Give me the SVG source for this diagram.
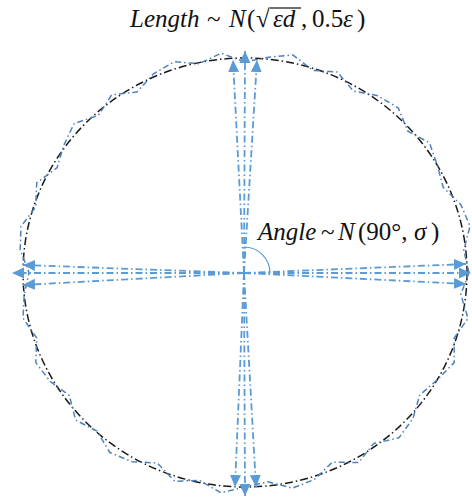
<svg xmlns="http://www.w3.org/2000/svg" width="472" height="502" viewBox="0 0 472 502">
<defs>
<style>
.circ{fill:none;stroke:#1a1a1a;stroke-width:1.5;stroke-dasharray:8 3 1.5 3}
.wob{fill:none;stroke:#4f81bd;stroke-width:1.5;stroke-dasharray:6 3 1.5 3;stroke-linejoin:round}
.arr{fill:none;stroke:#5b9bd5;stroke-width:1.8;stroke-dasharray:7 3 1.5 3;marker-end:url(#ah)}
.arc{fill:none;stroke:#5b9bd5;stroke-width:1.2}
.t{font-family:"Liberation Serif","Times New Roman",serif;font-size:25px;fill:#111}
.i{font-style:italic}
</style>
<marker id="ah" markerUnits="userSpaceOnUse" markerWidth="14" markerHeight="12" refX="12" refY="5.5" orient="auto">
<path d="M0,0 L12,5.5 L0,11 Z" fill="#5b9bd5"/>
</marker>
</defs>
<g id="circle">
<ellipse class="circ" cx="245" cy="272.5" rx="222" ry="214.5"/>
</g>
<g id="random-walk">
<polygon class="wob" points="469,272.5 460.8,294.4 468,318.3 454.2,338.2 454.2,362.6 437.3,379.8 419.7,395.1 412.9,418.7 398.9,437.8 373.7,443.6 358.5,462.6 332.4,462.1 314.5,479.4 292.4,488.2 267.8,481.8 245,487 221.1,492.8 199.3,480.3 174.9,481.3 157.2,463 132,461.7 109.8,452.5 97.1,431.2 75.6,420 69.4,395.6 50.1,381.3 35.8,362.6 36.7,337.9 23,318.1 24.2,294.9 29,272.5 20.2,249.7 21,226.5 35.8,206.8 36.7,182.8 57.1,167.7 63.8,145.2 74.1,123.6 98.5,115.3 111.6,94.9 137,91.9 153.5,73.8 174.2,61.8 199.1,63.7 221.2,53.2 245,62 268.4,57.2 292.8,54.9 313,70.4 337.3,72 353.5,91.1 377.8,95.7 398.2,107.9 407.7,131 429.5,142.9 437.3,165.3 443.2,187.3 460.9,204.7 470,226.2 463.8,250.3"/>
</g>
<g id="connectors">
<line class="arr" x1="244" y1="273" x2="233" y2="60"/>
<line class="arr" x1="244" y1="273" x2="245" y2="51"/>
<line class="arr" x1="244" y1="273" x2="257" y2="60"/>
<line class="arr" x1="244" y1="273" x2="235" y2="487"/>
<line class="arr" x1="244" y1="273" x2="245" y2="496"/>
<line class="arr" x1="244" y1="273" x2="256" y2="487"/>
<line class="arr" x1="244" y1="273" x2="23" y2="265"/>
<line class="arr" x1="244" y1="273" x2="12" y2="273"/>
<line class="arr" x1="244" y1="273" x2="23" y2="285"/>
<line class="arr" x1="244" y1="273" x2="466" y2="264"/>
<line class="arr" x1="244" y1="273" x2="471" y2="273"/>
<line class="arr" x1="244" y1="273" x2="466" y2="284"/>
<path class="arc" d="M244,247 A26,26 0 0 1 270,273"/>
</g>
<g id="title">
<text class="t" y="27"><tspan class="i" x="130">Length</tspan><tspan x="207">~</tspan><tspan class="i" x="229">N</tspan><tspan x="247">(</tspan><tspan x="256">√</tspan><tspan class="i" x="273">εd</tspan><tspan x="301">,</tspan><tspan x="312">0.5</tspan><tspan class="i" x="343">ε</tspan><tspan x="357">)</tspan></text>
<line x1="270" y1="8" x2="301" y2="8" stroke="#111" stroke-width="1.2"/>
</g>
<g id="angle-label">
<text class="t" y="240"><tspan class="i" x="258">Angle</tspan><tspan x="321">~</tspan><tspan class="i" x="338">N</tspan><tspan x="358">(90°,</tspan><tspan class="i" x="414">σ</tspan><tspan x="431">)</tspan></text>
</g>
</svg>
